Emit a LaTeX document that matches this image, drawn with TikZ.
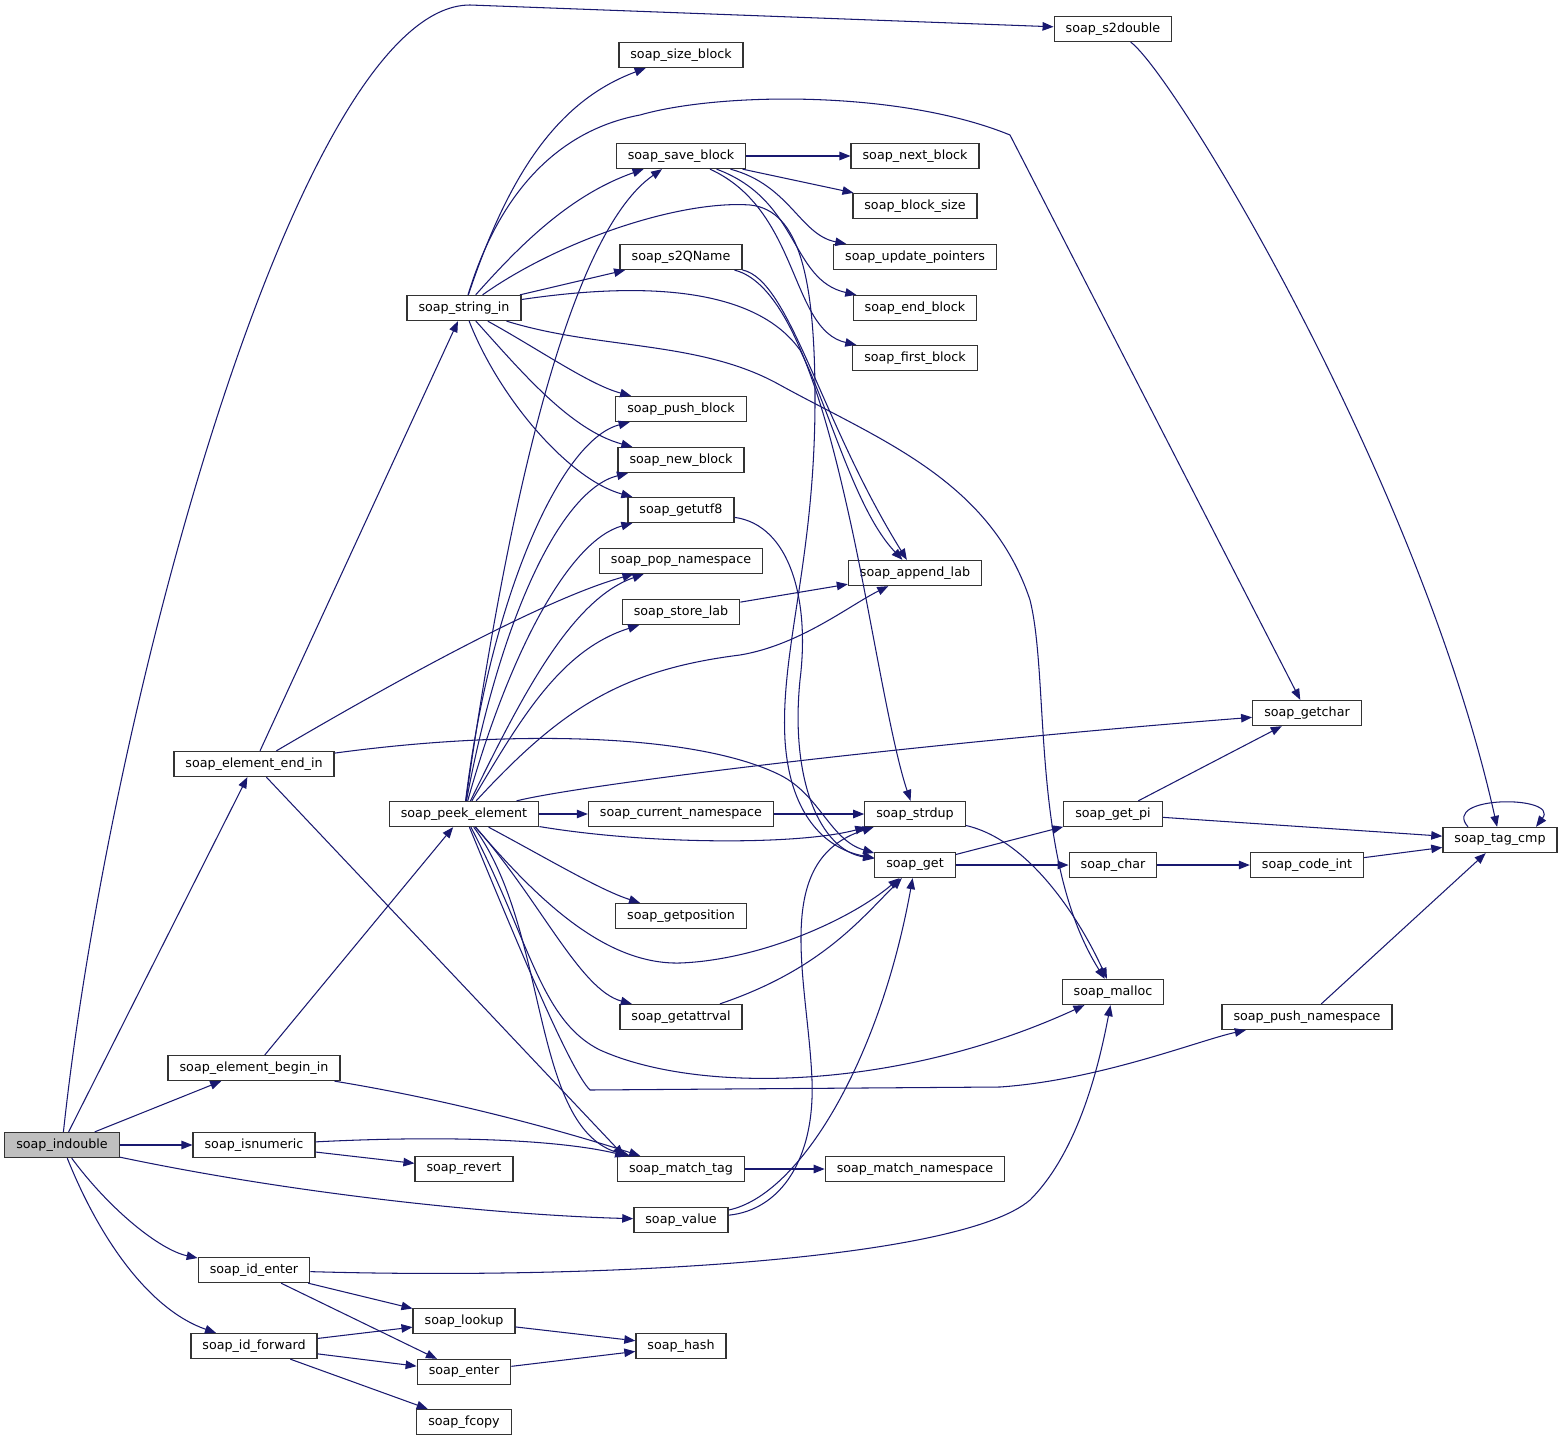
\documentclass[tikz,border=0pt]{standalone}
\usepackage{fontspec}
\setmainfont{DejaVu Sans}
\usetikzlibrary{arrows.meta}
\definecolor{edgec}{HTML}{191970}
\definecolor{boxc}{HTML}{333333}
\definecolor{rootc}{HTML}{BFBFBF}
\begin{document}
\begin{tikzpicture}[x=1pt,y=-1pt,
  fn/.style={draw=boxc, line width=1.3pt, fill=white, minimum height=25pt, inner xsep=11.5pt, inner ysep=0pt, font=\fontsize{12.7}{14}\selectfont, text=black},
  root/.style={fn, fill=rootc},
  cl/.style={draw=edgec, line width=1.05pt, -{Triangle[length=11pt,width=8.5pt]}}]
\path[use as bounding box, fill=white] (0,0) rectangle (1564,1443);
% rank 0
\node[root] (indouble) at (62,1145) {soap\_indouble};
% rank 1
\node[fn] (endin) at (254,764) {soap\_element\_end\_in};
\node[fn] (beginin) at (254,1068) {soap\_element\_begin\_in};
\node[fn] (isnumeric) at (254,1145) {soap\_isnumeric};
\node[fn] (identer) at (254,1270) {soap\_id\_enter};
\node[fn] (idforward) at (254,1346) {soap\_id\_forward};
% rank 2
\node[fn] (stringin) at (464,308) {soap\_string\_in};
\node[fn] (peek) at (464,814) {soap\_peek\_element};
\node[fn] (revert) at (464,1169) {soap\_revert};
\node[fn] (lookup) at (464,1321) {soap\_lookup};
\node[fn] (enter) at (464,1372) {soap\_enter};
\node[fn] (fcopy) at (464,1422) {soap\_fcopy};
% rank 3
\node[fn] (sizeblock) at (681,55) {soap\_size\_block};
\node[fn] (saveblock) at (681,156) {soap\_save\_block};
\node[fn] (s2qname) at (681,257) {soap\_s2QName};
\node[fn] (pushblock) at (681,409) {soap\_push\_block};
\node[fn] (newblock) at (681,460) {soap\_new\_block};
\node[fn] (getutf) at (681,510) {soap\_getutf8};
\node[fn] (popns) at (681,561) {soap\_pop\_namespace};
\node[fn] (storelab) at (681,612) {soap\_store\_lab};
\node[fn] (curns) at (681,814) {soap\_current\_namespace};
\node[fn] (getpos) at (681,916) {soap\_getposition};
\node[fn] (getattr) at (681,1017) {soap\_getattrval};
\node[fn] (matchtag) at (681,1169) {soap\_match\_tag};
\node[fn] (value) at (681,1220) {soap\_value};
\node[fn] (hash) at (681,1346) {soap\_hash};
% rank 4
\node[fn] (nextblock) at (915,156) {soap\_next\_block};
\node[fn] (blocksize) at (915,206) {soap\_block\_size};
\node[fn] (updptr) at (915,257) {soap\_update\_pointers};
\node[fn] (endblock) at (915,308) {soap\_end\_block};
\node[fn] (firstblock) at (915,358) {soap\_first\_block};
\node[fn] (appendlab) at (915,573) {soap\_append\_lab};
\node[fn] (strdup) at (915,814) {soap\_strdup};
\node[fn] (get) at (915,865) {soap\_get};
\node[fn] (matchns) at (915,1169) {soap\_match\_namespace};
% rank 5
\node[fn] (s2double) at (1113,29) {soap\_s2double};
\node[fn] (getpi) at (1113,814) {soap\_get\_pi};
\node[fn] (char) at (1113,865) {soap\_char};
\node[fn] (malloc) at (1113,992) {soap\_malloc};
% rank 6
\node[fn] (getchar) at (1307,713) {soap\_getchar};
\node[fn] (codeint) at (1307,865) {soap\_code\_int};
\node[fn] (pushns) at (1307,1017) {soap\_push\_namespace};
% rank 7
\node[fn] (tagcmp) at (1500,840) {soap\_tag\_cmp};

% ---- edges from soap_indouble
\draw[cl] (indouble) .. controls (110,700) and (300,5) .. (470,5) -- (s2double);
\draw[cl] (indouble) -- (endin);
\draw[cl] (indouble) -- (beginin);
\draw[cl] (indouble) -- (isnumeric);
\draw[cl] (indouble) .. controls (300,1195) and (500,1215) .. (value);
\draw[cl] (indouble) .. controls (110,1210) and (160,1250) .. (identer);
\draw[cl] (indouble) .. controls (100,1240) and (150,1310) .. (idforward);
% s2double
\draw[cl] (s2double) .. controls (1175,75) and (1420,480) .. (tagcmp);
% element_end_in
\draw[cl] (endin) -- (stringin);
\draw[cl] (endin) .. controls (380,690) and (540,600) .. (popns);
\draw[cl] (endin) .. controls (520,728) and (700,735) .. (780,775) .. controls (820,795) and (830,840) .. (get);
\draw[cl] (endin) -- (matchtag.167);
% string_in
\draw[cl] (stringin) .. controls (510,170) and (560,100) .. (sizeblock);
\draw[cl] (stringin) .. controls (500,190) and (560,130) .. (640,115) .. controls (720,92) and (900,90) .. (1010,135) -- (getchar);
\draw[cl] (stringin) .. controls (520,245) and (570,195) .. (saveblock);
\draw[cl] (stringin) -- (s2qname);
\draw[cl] (stringin) .. controls (560,240) and (680,200) .. (750,205) .. controls (800,210) and (815,280) .. (815,400) .. controls (815,560) and (780,650) .. (785,740) .. controls (790,820) and (830,850) .. (get);
\draw[cl] (stringin) .. controls (620,285) and (750,280) .. (800,350) .. controls (830,410) and (855,510) .. (appendlab);
\draw[cl] (stringin) .. controls (600,350) and (700,340) .. (780,385) .. controls (880,440) and (990,480) .. (1030,600) .. controls (1050,680) and (1030,860) .. (malloc);
\draw[cl] (stringin) .. controls (540,350) and (590,385) .. (pushblock);
\draw[cl] (stringin) .. controls (520,370) and (570,430) .. (newblock);
\draw[cl] (stringin) .. controls (500,400) and (570,480) .. (getutf);
% save_block
\draw[cl] (saveblock) -- (nextblock);
\draw[cl] (saveblock) -- (blocksize);
\draw[cl] (saveblock) .. controls (790,185) and (800,235) .. (updptr);
\draw[cl] (saveblock) .. controls (800,200) and (790,280) .. (endblock);
\draw[cl] (saveblock) .. controls (800,210) and (790,330) .. (firstblock);
% s2QName
\draw[cl] (s2qname) .. controls (790,280) and (820,420) .. (appendlab);
\draw[cl] (s2qname) .. controls (795,285) and (830,430) .. (850,520) .. controls (870,610) and (890,740) .. (strdup);
% getutf8
\draw[cl] (getutf) .. controls (790,525) and (810,600) .. (800,680) .. controls (790,780) and (820,850) .. (get);
% store_lab
\draw[cl] (storelab) -- (appendlab);
% peek_element
\draw[cl] (peek) .. controls (500,560) and (560,240) .. (saveblock);
\draw[cl] (peek) .. controls (490,600) and (560,440) .. (pushblock);
\draw[cl] (peek) .. controls (500,620) and (560,490) .. (newblock);
\draw[cl] (peek) .. controls (510,650) and (570,540) .. (getutf);
\draw[cl] (peek) .. controls (520,700) and (570,600) .. (popns);
\draw[cl] (peek) .. controls (520,720) and (560,650) .. (storelab);
\draw[cl] (peek) .. controls (560,710) and (620,670) .. (740,655) .. controls (800,645) and (850,605) .. (appendlab);
\draw[cl] (peek) .. controls (580,785) and (900,745) .. (getchar);
\draw[cl] (peek) -- (curns);
\draw[cl] (peek) .. controls (650,845) and (800,845) .. (strdup);
\draw[cl] (peek) .. controls (530,890) and (600,965) .. (680,963) .. controls (760,960) and (850,920) .. (get);
\draw[cl] (peek) .. controls (550,860) and (600,890) .. (getpos);
\draw[cl] (peek) .. controls (540,900) and (580,990) .. (getattr);
\draw[cl] (peek) .. controls (530,940) and (540,1020) .. (600,1050) .. controls (700,1095) and (900,1090) .. (malloc);
\draw[cl] (peek) .. controls (520,950) and (570,1070) .. (590,1090) -- (1000,1087) .. controls (1100,1080) and (1200,1040) .. (pushns);
\draw[cl] (peek) .. controls (550,930) and (530,1130) .. (matchtag);
% element_begin_in
\draw[cl] (beginin) -- (peek);
\draw[cl] (beginin) .. controls (450,1100) and (560,1130) .. (matchtag);
% isnumeric
\draw[cl] (isnumeric) .. controls (450,1135) and (560,1140) .. (matchtag);
\draw[cl] (isnumeric) -- (revert);
% match_tag
\draw[cl] (matchtag) -- (matchns);
% current_namespace
\draw[cl] (curns) -- (strdup);
% value
\draw[cl] (value) .. controls (780,1210) and (815,1160) .. (812,1080) .. controls (808,980) and (770,860) .. (strdup);
\draw[cl] (value) .. controls (800,1195) and (880,1060) .. (get);
% getattrval
\draw[cl] (getattr) .. controls (820,970) and (860,920) .. (get);
% strdup
\draw[cl] (strdup) .. controls (1030,840) and (1080,920) .. (malloc);
% get
\draw[cl] (get) -- (getpi);
\draw[cl] (get) -- (char);
\draw[cl] (getpi) -- (getchar);
\draw[cl] (getpi) -- (tagcmp);
\draw[cl] (char) -- (codeint);
\draw[cl] (codeint) -- (tagcmp);
\draw[cl] (pushns) -- (tagcmp);
\draw[cl] ([xshift=-32pt]tagcmp.north) .. controls (1440,795) and (1560,795) .. ([xshift=36pt]tagcmp.north);
% id_enter / id_forward
\draw[cl] (identer) .. controls (600,1280) and (960,1260) .. (1030,1200) .. controls (1080,1150) and (1100,1060) .. (malloc);
\draw[cl] (identer) -- (lookup);
\draw[cl] (identer) -- (enter);
\draw[cl] (idforward) -- (lookup);
\draw[cl] (idforward) -- (enter);
\draw[cl] (idforward) -- (fcopy);
\draw[cl] (lookup) -- (hash);
\draw[cl] (enter) -- (hash);
\end{tikzpicture}
\end{document}
